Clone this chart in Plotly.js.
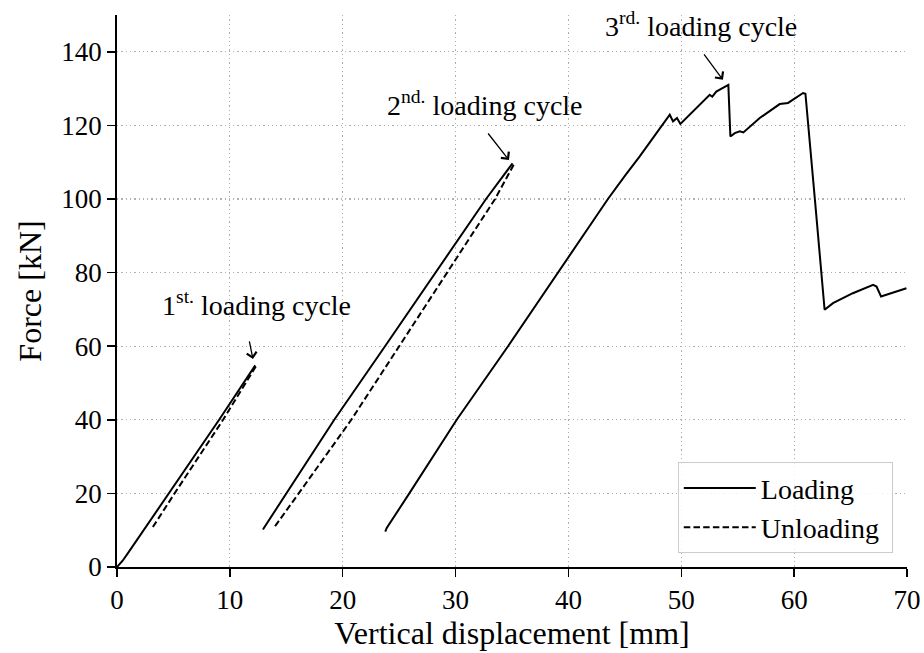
<!DOCTYPE html>
<html>
<head>
<meta charset="utf-8">
<script src="https://cdn.plot.ly/plotly-3.0.1.min.js"></script>
<style>
html,body{margin:0;padding:0;background:#ffffff;}
#chart{width:924px;height:653px;}
</style>
</head>
<body>
<div id="chart"></div>
<script>
// ---- data ----
const load1X = [0, 0.5, 1.0, 2.0, 4.55, 9.05, 12.25];
const load1Y = [0, 1.7, 3.9, 8.4, 20, 40, 54.8];
const unload1X = [12.3, 9.4, 5.1, 3.04];
const unload1Y = [54.5, 40, 20, 10.2];

const load2X = [12.93, 15.0, 19.25, 23.75, 28.25, 32.7, 35.05];
const load2Y = [10.2, 20, 40, 60, 80, 100, 109.7];
const unload2X = [35.15, 33.5, 29.25, 25.0, 20.76, 16.1, 13.87];
const unload2Y = [109.3, 100, 80, 60, 40, 20, 10.5];

const load3X = [23.77, 23.9, 25.9, 30.1, 34.65, 39.1, 41.3, 43.5, 45.0, 46.3, 47.8, 48.98, 49.27, 49.62, 49.92,
  52.52, 52.75, 53.1, 54.17, 54.35, 54.74, 55.18, 55.5, 56.95, 58.72, 59.46, 60.79, 61.0,
  61.85, 62.7, 63.44, 65.2, 67.0, 67.3, 67.7, 69.95];
const load3Y = [9.6, 10.6, 20, 40, 60, 80, 90, 100, 106.3, 111.5, 117.9, 122.9, 121.1, 122.0, 120.4,
  128.3, 127.8, 129.2, 131.0, 117.0, 117.9, 118.4, 118.1, 122.0, 125.8, 126.1, 128.8, 128.6,
  99.5, 69.9, 71.7, 74.4, 76.65, 76.2, 73.5, 75.75];

const xTicks = [0, 10, 20, 30, 40, 50, 60, 70];
const yTicks = [0, 20, 40, 60, 80, 100, 120, 140];

// annotation labels, their positions, and the arrows (tail -> tip)
const noteText = ['1<sup>st.</sup> loading cycle', '2<sup>nd.</sup> loading cycle', '3<sup>rd.</sup> loading cycle'];
const noteX = [12.38, 32.58, 51.73];
const noteY = [71.5, 126.0, 147.3];
const arrowTailX = [11.7, 32.78, 51.92];
const arrowTailY = [61.7, 118.2, 139.7];
const arrowTipX = [12.05, 34.73, 53.69];
const arrowTipY = [56.5, 110.6, 132.4];

const FONT = 'Liberation Serif, "Times New Roman", Times, serif';
const solid = {color: '#000000', width: 2};
const dashed = {color: '#000000', width: 2, dash: '6.5px,3.2px'};

const traces = [
  {x: load1X, y: load1Y, mode: 'lines', name: 'Loading\u00a0', line: solid, legendgroup: 'L', showlegend: true},
  {x: unload1X, y: unload1Y, mode: 'lines', name: 'Unloading\u00a0', line: dashed, legendgroup: 'U', showlegend: true},
  {x: load2X, y: load2Y, mode: 'lines', name: 'Loading', line: solid, legendgroup: 'L', showlegend: false},
  {x: unload2X, y: unload2Y, mode: 'lines', name: 'Unloading', line: dashed, legendgroup: 'U', showlegend: false},
  {x: load3X, y: load3Y, mode: 'lines', name: 'Loading', line: solid, legendgroup: 'L', showlegend: false}
];

const txtFont = {family: FONT, size: 28, color: '#000000'};
const annotations = [];
noteText.forEach((t, i) => {
  annotations.push({xref: 'x', yref: 'y', x: noteX[i], y: noteY[i], text: t, showarrow: false,
    font: txtFont, xanchor: 'center', yanchor: 'middle'});
});
arrowTipX.forEach((tx, i) => {
  annotations.push({xref: 'x', yref: 'y', axref: 'x', ayref: 'y', x: tx, y: arrowTipY[i],
    ax: arrowTailX[i], ay: arrowTailY[i], text: '', showarrow: true,
    arrowhead: 4, arrowsize: 1.5, arrowwidth: 1.3, arrowcolor: '#000000'});
});

const layout = {
  width: 924, height: 653,
  margin: {l: 117, r: 17, t: 15, b: 86},
  paper_bgcolor: '#ffffff', plot_bgcolor: '#ffffff',
  font: {family: FONT, color: '#000000'},
  showlegend: true,
  legend: {
    x: 0.982, xanchor: 'right', y: 0.025, yanchor: 'bottom',
    bgcolor: 'rgba(255,255,255,0.85)', bordercolor: '#cccccc', borderwidth: 1,
    font: {family: FONT, size: 28, color: '#000000'},
    itemwidth: 72, tracegroupgap: 0
  },
  xaxis: {
    range: [0, 70], tickvals: xTicks, ticktext: xTicks.map(String),
    showline: true, linecolor: '#000000', linewidth: 1.8,
    ticks: 'outside', ticklen: 8, tickwidth: 1.5, tickcolor: '#000000',
    tickfont: {family: FONT, size: 27, color: '#000000'},
    showgrid: true, gridcolor: '#b0b0b0', gridwidth: 1.2, griddash: '1.3px,3px',
    zeroline: false, mirror: false,
    title: {text: 'Vertical displacement [mm]', font: {family: FONT, size: 32, color: '#000000'}, standoff: 6}
  },
  yaxis: {
    range: [0, 150], tickvals: yTicks, ticktext: yTicks.map(String),
    showline: true, linecolor: '#000000', linewidth: 1.8,
    ticks: 'outside', ticklen: 8, tickwidth: 1.5, tickcolor: '#000000',
    tickfont: {family: FONT, size: 27, color: '#000000'},
    showgrid: true, gridcolor: '#b0b0b0', gridwidth: 1.2, griddash: '1.3px,3px',
    zeroline: false, mirror: false,
    title: {text: 'Force [kN]', font: {family: FONT, size: 32, color: '#000000'}, standoff: 10}
  },
  annotations: annotations
};

Plotly.newPlot('chart', traces, layout, {displayModeBar: false, staticPlot: true});
</script>
</body>
</html>
